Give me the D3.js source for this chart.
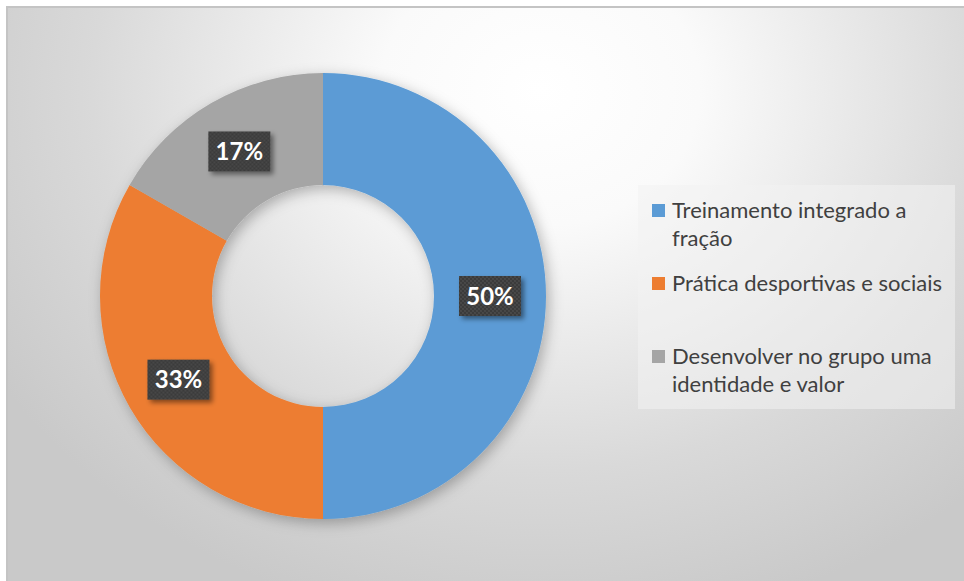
<!DOCTYPE html>
<html>
<head>
<meta charset="utf-8">
<script src="https://cdn.jsdelivr.net/npm/d3@7"></script>
<style>
  body { margin: 0; background: #fff; }
  text { font-family: Lato, "Open Sans", sans-serif; }
</style>
</head>
<body>
<div id="chart"></div>
<script>
// chart data
var categories = ["Treinamento integrado a fração", "Prática desportivas e sociais", "Desenvolver no grupo uma identidade e valor"];
var values = [50, 33.3, 16.7];
var pctLabels = ["50%", "33%", "17%"];
var colors = ["#5b9bd5", "#ed7d31", "#a5a5a5"];

var w = 964, h = 581;
var cx = 323, cy = 296;
var outerR = 223, innerR = 111;

var svg = d3.select("#chart").append("svg")
  .attr("width", w)
  .attr("height", h);

var defs = svg.append("defs");

var bg = defs.append("radialGradient")
  .attr("id", "bg")
  .attr("gradientUnits", "userSpaceOnUse")
  .attr("cx", 540).attr("cy", 90).attr("r", 640)
  .attr("gradientTransform", "translate(540,90) scale(1,0.85) translate(-540,-90)");
bg.append("stop").attr("offset", "0").attr("stop-color", "#ffffff");
bg.append("stop").attr("offset", "0.25").attr("stop-color", "#fafafa");
bg.append("stop").attr("offset", "0.7").attr("stop-color", "#d9d9d9");
bg.append("stop").attr("offset", "1").attr("stop-color", "#c9c9c9");

var pieShadow = defs.append("filter").attr("id", "pieShadow")
  .attr("x", "-20%").attr("y", "-20%").attr("width", "140%").attr("height", "140%");
pieShadow.append("feDropShadow")
  .attr("dx", 3).attr("dy", 4).attr("stdDeviation", 7)
  .attr("flood-color", "#000").attr("flood-opacity", 0.28);

var boxShadow = defs.append("filter").attr("id", "boxShadow")
  .attr("x", "-30%").attr("y", "-30%").attr("width", "160%").attr("height", "160%");
boxShadow.append("feDropShadow")
  .attr("dx", 3).attr("dy", 3).attr("stdDeviation", 2.5)
  .attr("flood-color", "#000").attr("flood-opacity", 0.45);

var dots = defs.append("pattern").attr("id", "dots")
  .attr("patternUnits", "userSpaceOnUse")
  .attr("width", 4).attr("height", 4);
dots.append("rect").attr("width", 4).attr("height", 4).attr("fill", "#3b3b3b");
dots.append("circle").attr("cx", 1).attr("cy", 1).attr("r", 0.9).attr("fill", "#4d4d4d");
dots.append("circle").attr("cx", 3).attr("cy", 3).attr("r", 0.9).attr("fill", "#4d4d4d");

// chart area
svg.append("rect")
  .attr("x", 7).attr("y", 7)
  .attr("width", w).attr("height", h)
  .attr("fill", "url(#bg)")
  .attr("stroke", "#c4c4c4")
  .attr("stroke-width", 2);

var pie = d3.pie().sort(null).value(function(d) { return d; });
var arc = d3.arc().innerRadius(innerR).outerRadius(outerR);
var arcs = pie(values);

var g = svg.append("g").attr("transform", "translate(" + cx + "," + cy + ")");

g.append("g").attr("filter", "url(#pieShadow)")
  .selectAll("path")
  .data(arcs)
  .enter().append("path")
  .attr("d", arc)
  .attr("fill", function(d, i) { return colors[i]; });

// data labels
var lab = g.selectAll(".lab")
  .data(arcs)
  .enter().append("g")
  .attr("class", "lab")
  .attr("transform", function(d) { return "translate(" + arc.centroid(d) + ")"; });

lab.append("rect")
  .attr("x", -31).attr("y", -20)
  .attr("width", 62).attr("height", 40)
  .attr("fill", "url(#dots)")
  .attr("filter", "url(#boxShadow)");

lab.append("text")
  .text(function(d, i) { return pctLabels[i]; })
  .attr("text-anchor", "middle")
  .attr("dy", "0.36em")
  .attr("fill", "#fff")
  .attr("font-weight", "bold")
  .attr("font-size", 24);

// legend
var legX = 638, legY = 185;
svg.append("rect")
  .attr("x", legX).attr("y", legY)
  .attr("width", 317).attr("height", 224)
  .attr("fill", "#f3f3f3")
  .attr("fill-opacity", 0.55);

var slot = 73;
var leg = svg.selectAll(".leg")
  .data(categories)
  .enter().append("g")
  .attr("class", "leg")
  .attr("transform", function(d, i) { return "translate(652," + (218 + i * slot) + ")"; });

leg.append("rect")
  .attr("x", 0).attr("y", -14)
  .attr("width", 13).attr("height", 13)
  .attr("fill", function(d, i) { return colors[i]; });

leg.each(function(d) {
  var t = d3.select(this).append("text")
    .attr("x", 20)
    .attr("font-size", 22)
    .attr("fill", "#404040");
  var words = d.split(" ");
  var line = [];
  var ts = t.append("tspan").attr("x", 20).attr("y", 0);
  var lineNo = 0;
  words.forEach(function(word) {
    line.push(word);
    ts.text(line.join(" "));
    if (ts.node().getComputedTextLength() > 280 && line.length > 1) {
      line.pop();
      ts.text(line.join(" "));
      line = [word];
      lineNo++;
      ts = t.append("tspan").attr("x", 20).attr("y", lineNo * 28).text(word);
    }
  });
});
</script>
</body>
</html>
